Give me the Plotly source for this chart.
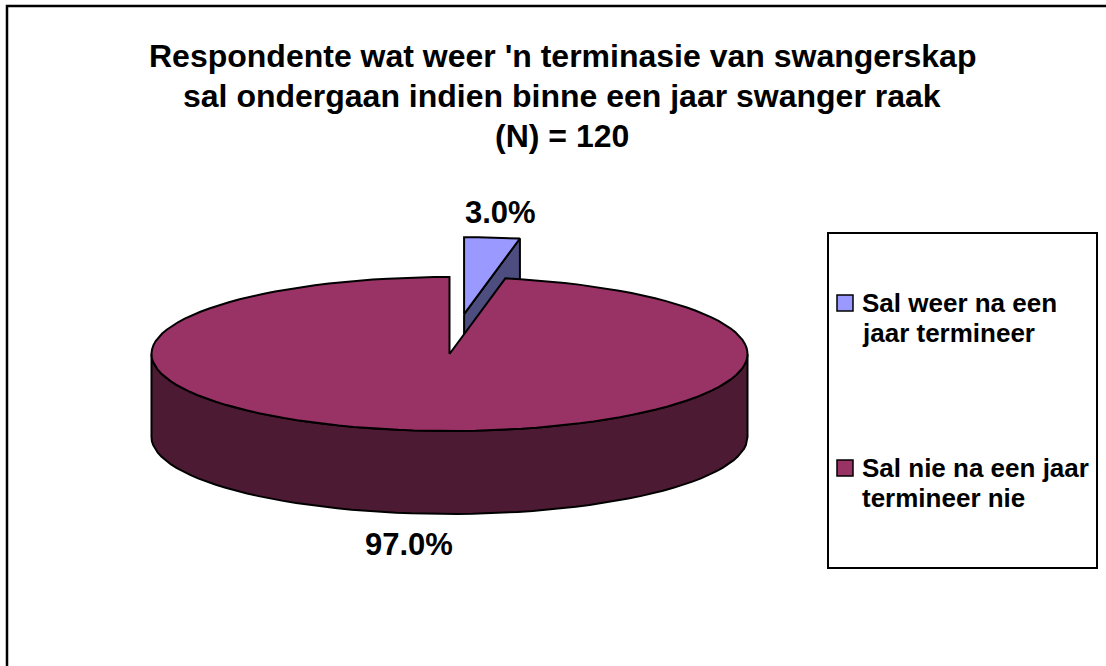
import math
import plotly.graph_objects as go

# ---- data ----
categories = ["Sal weer na een jaar termineer", "Sal nie na een jaar termineer nie"]
legend_lines = [["Sal weer na een", "jaar termineer"], ["Sal nie na een jaar", "termineer nie"]]
percentages = [3.0, 97.0]
n_total = 120
title_lines = [
    "Respondente wat weer 'n terminasie van swangerskap",
    "sal ondergaan indien binne een jaar swanger raak",
    f"(N) = {n_total}",
]

# ---- styling ----
top_colors = ["#9999FF", "#993366"]
side_colors = ["#4D4D80", "#4D1A33"]
explode = [0.52, 0.0]
FONT = "Liberation Sans, Arial, sans-serif"
W, H = 1106, 666

# pie geometry (pixel space, y grows downward)
CX, CY = 449.5, 354.0
RA, RB = 298.0, 77.0
DEPTH = 83.0


def pt(theta_deg, r=1.0, dx=0.0, dy=0.0, down=0.0):
    t = math.radians(theta_deg)
    return CX + dx + r * RA * math.sin(t), CY + dy - r * RB * math.cos(t) + down


def arc(t0, t1, dx, dy, down=0.0, n=120):
    steps = max(2, int(abs(t1 - t0) / 360 * n) + 2)
    xs, ys = [], []
    for i in range(steps):
        t = t0 + (t1 - t0) * i / (steps - 1)
        x, y = pt(t, 1.0, dx, dy, down)
        xs.append(x)
        ys.append(y)
    return xs, ys


fig = go.Figure()


def poly(xs, ys, fill):
    fig.add_trace(go.Scatter(
        x=xs + [xs[0]], y=ys + [ys[0]], mode="lines", fill="toself",
        fillcolor=fill, line=dict(color="black", width=2),
        hoverinfo="skip", showlegend=False,
    ))


total = sum(percentages)
spans = []
acc = 0.0
for v in percentages:
    t0 = acc / total * 360.0
    acc += v
    spans.append((t0, acc / total * 360.0))

# back slices first so the front ones overlap them
order = sorted(range(len(percentages)),
               key=lambda i: math.cos(math.radians((spans[i][0] + spans[i][1]) / 2)),
               reverse=True)

for i in order:
    t0, t1 = spans[i]
    tm = math.radians((t0 + t1) / 2)
    dx = explode[i] * RA * math.sin(tm)
    dy = -explode[i] * RB * math.cos(tm)
    vx, vy = CX + dx, CY + dy

    # radial cut faces facing the viewer
    for t, vis in ((t0, math.sin(math.radians(t0)) < -1e-9),
                   (t1, math.sin(math.radians(t1)) > 1e-9)):
        if vis:
            ax, ay = pt(t, 1.0, dx, dy)
            poly([vx, ax, ax, vx], [vy, ay, ay + DEPTH, vy + DEPTH], side_colors[i])

    # outer rim, front half only
    a0, a1 = max(t0, 90.0), min(t1, 270.0)
    if a1 > a0:
        xs_t, ys_t = arc(a0, a1, dx, dy)
        xs_b, ys_b = arc(a1, a0, dx, dy, DEPTH)
        poly(xs_t + xs_b, ys_t + ys_b, side_colors[i])

    # top face
    xs, ys = arc(t0, t1, dx, dy)
    poly([vx] + xs, [vy] + ys, top_colors[i])

annotations = []
# title
for k, line in enumerate(title_lines):
    annotations.append(dict(
        x=562, y=56 + k * 40, text=f"<b>{line}</b>", showarrow=False,
        xanchor="center", yanchor="middle", font=dict(family=FONT, size=32, color="black"),
    ))

# data labels
label_pos = [(500, 212), (409, 544)]
for (lx, ly), v in zip(label_pos, percentages):
    annotations.append(dict(
        x=lx, y=ly, text=f"<b>{v:.1f}%</b>", showarrow=False,
        xanchor="center", yanchor="middle", font=dict(family=FONT, size=31, color="black"),
    ))

# legend
shapes = [
    dict(type="rect", x0=7, y0=6, x1=W + 20, y1=H + 20,
         line=dict(color="black", width=2.5), fillcolor="rgba(0,0,0,0)"),
    dict(type="rect", x0=828, y0=233, x1=1097, y1=568,
         line=dict(color="black", width=2), fillcolor="white", layer="below"),
]
legend_y = [303, 468]
for k, (lines, col) in enumerate(zip(legend_lines, top_colors)):
    y0 = legend_y[k]
    shapes.append(dict(type="rect", x0=837, y0=y0 - 8, x1=853, y1=y0 + 8,
                       line=dict(color="black", width=1.5), fillcolor=col))
    for j, line in enumerate(lines):
        annotations.append(dict(
            x=860, y=y0 + j * 30, text=f"<b>{line}</b>", showarrow=False,
            xanchor="left", yanchor="middle", font=dict(family=FONT, size=26, color="black"),
        ))

fig.update_layout(
    width=W, height=H, autosize=False,
    margin=dict(l=0, r=0, t=0, b=0),
    paper_bgcolor="white", plot_bgcolor="white",
    xaxis=dict(range=[0, W], visible=False, fixedrange=True),
    yaxis=dict(range=[H, 0], visible=False, fixedrange=True),
    shapes=shapes, annotations=annotations, showlegend=False,
)

fig.write_html("out.html")
